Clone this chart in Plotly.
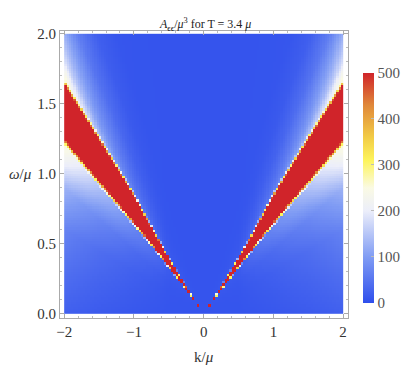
import numpy as np
import plotly.graph_objects as go

# band edges (ratio omega/|k|) at a few |k|
edge_k = [0.0, 0.5, 1.0, 1.5, 2.0]
upper_r = [0.75, 0.80, 0.85, 0.84, 0.83]
lower_r = [0.69, 0.67, 0.64, 0.62, 0.61]

# glow around the band, read along the k = +-2 edge (value above the blue floor)
glow_r = [0.0, 0.15, 0.3, 0.45, 0.5, 0.55, 0.6, 0.84, 0.87, 0.9, 0.95, 1.0, 1.1, 1.3, 1.6, 3.0, 50.0]
glow_v = [15, 35, 60, 120, 165, 210, 250, 250, 215, 175, 140, 115, 70, 25, 5, 0, 0]

# how strong the glow is at each |k|
gain_k = [0.0, 0.5, 1.0, 1.5, 1.8, 2.0]
gain_v = [0.0, 0.03, 0.25, 0.55, 0.8, 1.0]

floor = 8
band = 650

colorbar_ticks = [0, 100, 200, 300, 400, 500]

nk, nw = 120, 120
hk, hw = 4.0 / nk, 2.0 / nw
k = -2 + hk / 2 + hk * np.arange(nk)
w = hw / 2 + hw * np.arange(nw)
K, W = np.meshgrid(k, w)
ak = np.abs(K)
r = W / np.maximum(ak, 1e-9)

up = np.interp(ak, edge_k, upper_r)
lo = np.interp(ak, edge_k, lower_r)
# sharp core with thin yellow edges
s = 0.02
core = np.clip(np.minimum((r - lo) / s, (up - r) / s) + 1, 0, 2) / 2 * band
glow = floor + np.interp(r, glow_r, glow_v) * np.interp(ak, gain_k, gain_v)
z = np.maximum(core, glow)

colorscale = [
    [0.0, "rgb(46,78,236)"],
    [0.2, "rgb(128,156,244)"],
    [0.4, "rgb(236,238,250)"],
    [0.5, "rgb(250,250,228)"],
    [0.62, "rgb(253,244,92)"],
    [0.72, "rgb(242,204,70)"],
    [0.86, "rgb(224,136,58)"],
    [1.0, "rgb(208,36,42)"],
]

font = "Liberation Serif"

fig = go.Figure(go.Heatmap(
    x=k, y=w, z=z, zmin=0, zmax=500, colorscale=colorscale,
    hoverinfo="none",
    colorbar=dict(
        x=1.052, xanchor="left", xpad=0, y=0.453, yanchor="middle",
        len=250, lenmode="pixels", thickness=11, outlinewidth=0,
        tickvals=colorbar_ticks, ticks="inside", ticklen=3, tickcolor="#bbb",
        tickfont=dict(family=font, size=15, color="#555"),
    ),
))

def axis(rng, major, minor, fmt):
    return dict(
        range=rng, showgrid=False, zeroline=False, showline=True, linecolor="#aaa",
        linewidth=1, mirror="ticks", ticks="inside", ticklen=4, tickcolor="#aaa",
        dtick=major, tick0=0, tickformat=fmt, automargin=False,
        tickfont=dict(family=font, size=15, color="#333"),
        minor=dict(dtick=minor, ticks="inside", ticklen=2, tickcolor="#bbb"),
    )

fig.update_layout(
    template="none",
    width=407, height=379,
    margin=dict(l=60, r=59, t=31, b=61, autoexpand=False),
    plot_bgcolor="white", paper_bgcolor="white",
    xaxis=axis([-2.06, 2.07], 1, 0.2, "d"),
    yaxis=axis([-0.03, 2.02], 0.5, 0.1, ".1f"),
    showlegend=False,
    annotations=[
        dict(text="<i>A</i><sub>ϵϵ</sub>/<i>μ</i><sup>3</sup> for T = 3.4 <i>μ</i>",
             x=0.503, y=1.059, xref="paper", yref="paper", xanchor="center",
             showarrow=False, font=dict(family=font, size=12, color="#222")),
        dict(text="<i>ω</i>/<i>μ</i>", x=(20 - 60) / 288, y=1.0, xref="paper", yref="y",
             xanchor="center", showarrow=False,
             font=dict(family=font, size=15, color="#333")),
        dict(text="k/<i>μ</i>", x=0, y=(318 - 367) / 287, xref="x", yref="paper",
             xanchor="center", showarrow=False,
             font=dict(family=font, size=15, color="#333")),
    ],
)

# drop the browser's default page margin so the figure sits at the window corner
fig.write_html("out.html", config=dict(displayModeBar=False),
               post_script="document.body.style.margin='0px';")
